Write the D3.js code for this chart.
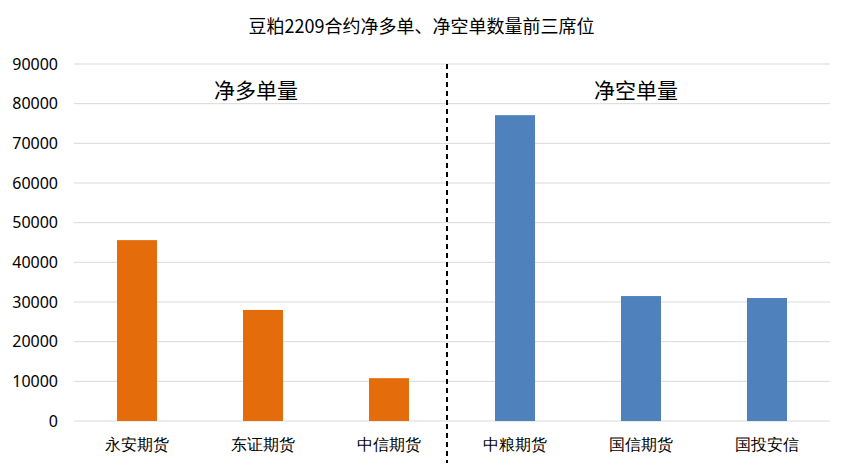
<!DOCTYPE html>
<html><head><meta charset="utf-8">
<script src="https://cdn.jsdelivr.net/npm/d3@7"></script>
<style>body{margin:0;background:#fff;font-family:"Noto Sans CJK SC","Noto Sans",sans-serif}</style>
</head><body><div class="chart"></div>
<script>
const categories = ["永安期货","东证期货","中信期货","中粮期货","国信期货","国投安信"];
const values = [45600, 28000, 10800, 77100, 31500, 31000];
const groups = ["long","long","long","short","short","short"];
const yTicks = [0,10000,20000,30000,40000,50000,60000,70000,80000,90000];
const colors = {long:"#E46C0A", short:"#4F81BD"};

const W = 843, H = 470;
const margin = {top: 64, right: 13, bottom: 49, left: 74};
const w = W - margin.left - margin.right, h = H - margin.top - margin.bottom;

const svg = d3.select(".chart").append("svg").attr("width", W).attr("height", H);
svg.append("text").attr("x", W/2).attr("y", 33).attr("text-anchor","middle")
  .attr("font-size", 18).attr("fill","#000").text("豆粕2209合约净多单、净空单数量前三席位");

const g = svg.append("g").attr("transform", `translate(${margin.left},${margin.top})`);
const x = d3.scaleBand().domain(categories).range([0, w]);
const y = d3.scaleLinear().domain([0, 90000]).range([h, 0]);

g.selectAll(".grid").data(yTicks).enter().append("line")
  .attr("x1", 0).attr("x2", w).attr("y1", d=>y(d)).attr("y2", d=>y(d))
  .attr("stroke", "#d9d9d9").attr("stroke-width", 1);

const yAxis = g.append("g").call(d3.axisLeft(y).tickValues(yTicks).tickSize(0).tickPadding(16).tickFormat(d3.format("d")));
yAxis.select(".domain").remove();
yAxis.selectAll("text").attr("font-size", 16).attr("fill","#000").attr("font-family","Noto Sans, sans-serif");

const xAxis = g.append("g").attr("transform", `translate(0,${h})`).call(d3.axisBottom(x).tickSize(0).tickPadding(18));
xAxis.select(".domain").remove();
xAxis.selectAll("text").attr("font-size", 16).attr("fill","#000");

g.selectAll(".bar").data(categories).enter().append("rect")
  .attr("x", d=>x(d) + x.bandwidth()/2 - 20).attr("width", 40)
  .attr("y", (d,i)=>y(values[i])).attr("height", (d,i)=>h - y(values[i]))
  .attr("fill", (d,i)=>colors[groups[i]]);

const xd = x(categories[3]) - 5;
g.append("line").attr("x1", xd).attr("x2", xd).attr("y1", 0).attr("y2", h + 42)
  .attr("stroke","#000").attr("stroke-width",2).attr("stroke-dasharray","5,4");

g.append("text").attr("x", x(categories[1]) + x.bandwidth()/2 - 7).attr("y", 34).attr("text-anchor","middle")
  .attr("font-size", 21).text("净多单量");
g.append("text").attr("x", x(categories[4]) + x.bandwidth()/2 - 5).attr("y", 34).attr("text-anchor","middle")
  .attr("font-size", 21).text("净空单量");
</script></body></html>
